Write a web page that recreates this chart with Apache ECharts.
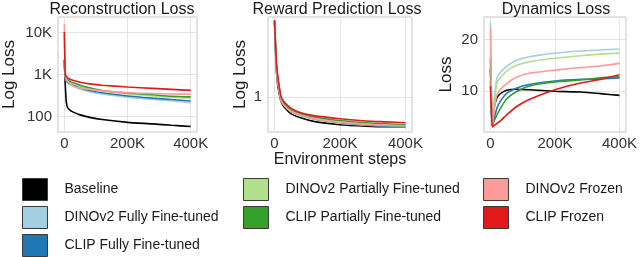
<!DOCTYPE html>
<html><head><meta charset="utf-8">
<script src="https://cdn.jsdelivr.net/npm/echarts@6/dist/echarts.min.js"></script>
<style>html,body{margin:0;padding:0;background:#fff}#c{width:640px;height:257px}</style>
</head><body><div id="c"></div>
<script>
// Shared x positions (environment steps)
const steps = [0, 3000, 6000, 10000, 20000, 30000, 50000, 80000, 120000, 200000, 280000, 340000, 400000];
const xTicks = [0, 200000, 400000];

const seriesNames = ['Baseline', 'DINOv2 Fully Fine-tuned', 'CLIP Fully Fine-tuned',
  'DINOv2 Partially Fine-tuned', 'CLIP Partially Fine-tuned', 'DINOv2 Frozen', 'CLIP Frozen'];
const seriesColors = ['#000000', '#a6cee3', '#1f78b4', '#b2df8a', '#33a02c', '#fb9a99', '#e31a1c'];

// Reconstruction Loss (log scale)
const reconBaseline = [2250, 580, 235, 165, 138, 126, 110, 96, 85, 73, 67, 62, 58];
const reconDinoFull = [1800, 850, 720, 630, 560, 520, 450, 390, 345, 290, 255, 235, 215];
const reconClipFull = [1900, 900, 760, 670, 600, 560, 485, 420, 370, 310, 275, 255, 235];
const reconDinoPart = [2000, 950, 800, 720, 640, 600, 530, 460, 400, 345, 310, 290, 275];
const reconClipPart = [2100, 1000, 850, 760, 680, 635, 560, 485, 420, 365, 330, 305, 295];
const reconDinoFrozen = [16200, 1100, 850, 700, 600, 530, 480, 445, 410, 370, 355, 345, 340];
const reconClipFrozen = [10300, 1000, 900, 830, 760, 720, 660, 600, 560, 505, 470, 445, 420];

// Reward Prediction Loss (log scale)
const rewardBaseline = [3.3, 2.1, 1.5, 1.2, 0.93, 0.85, 0.77, 0.72, 0.68, 0.645, 0.63, 0.625, 0.625];
const rewardDinoFull = [3.3, 2.15, 1.55, 1.25, 0.95, 0.87, 0.79, 0.74, 0.7, 0.66, 0.64, 0.632, 0.63];
const rewardClipFull = [3.3, 2.2, 1.6, 1.3, 0.96, 0.88, 0.8, 0.75, 0.71, 0.67, 0.645, 0.635, 0.63];
const rewardDinoPart = [3.35, 2.2, 1.6, 1.3, 0.96, 0.88, 0.8, 0.75, 0.71, 0.675, 0.65, 0.64, 0.635];
const rewardClipPart = [3.35, 2.25, 1.65, 1.35, 0.98, 0.9, 0.82, 0.77, 0.73, 0.69, 0.665, 0.655, 0.645];
const rewardDinoFrozen = [3.35, 2.2, 1.6, 1.3, 0.95, 0.87, 0.8, 0.75, 0.71, 0.67, 0.65, 0.64, 0.635];
const rewardClipFrozen = [3.38, 2.3, 1.7, 1.38, 1.0, 0.92, 0.84, 0.78, 0.745, 0.71, 0.685, 0.675, 0.665];

// Dynamics Loss (linear scale)
const dynBaseline = [14.3, 7, 3.3, 6.5, 8.7, 9.5, 10.2, 10.4, 10.3, 10.0, 9.85, 9.55, 9.2];
const dynDinoFull = [23.4, 10, 3.3, 7.5, 12.6, 13.6, 14.8, 16.0, 16.7, 17.4, 17.8, 18.0, 18.2];
const dynClipFull = [12, 6, 3.2, 4.3, 6.7, 8.0, 9.6, 10.6, 11.3, 12.0, 12.3, 12.4, 12.6];
const dynDinoPart = [16, 8, 3.3, 6.8, 11.6, 12.6, 13.9, 15.0, 15.7, 16.4, 16.9, 17.2, 17.4];
const dynClipPart = [16.6, 8, 3.2, 4.0, 5.4, 6.6, 8.5, 9.9, 11.0, 11.8, 12.2, 12.6, 12.8];
const dynDinoFrozen = [22.2, 9, 3.2, 5.8, 9.3, 10.3, 11.5, 12.7, 13.5, 14.1, 14.6, 14.9, 15.4];
const dynClipFrozen = [11, 6, 3.1, 3.3, 3.75, 4.2, 5.4, 7.0, 8.4, 10.3, 11.6, 12.3, 13.2];
const dynTicks = [10, 20];

const panels = [
  {title: 'Reconstruction Loss', yName: 'Log Loss', log: true, min: 43, max: 23500, nameGap: 40,
   data: [reconBaseline, reconDinoFull, reconClipFull, reconDinoPart, reconClipPart, reconDinoFrozen, reconClipFrozen]},
  {title: 'Reward Prediction Loss', yName: 'Log Loss', log: true, min: 0.575, max: 3.55, nameGap: 19,
   data: [rewardBaseline, rewardDinoFull, rewardClipFull, rewardDinoPart, rewardClipPart, rewardDinoFrozen, rewardClipFrozen]},
  {title: 'Dynamics Loss', yName: 'Loss', log: false, min: 2.1, max: 24.4, ticks: dynTicks, nameGap: 29,
   data: [dynBaseline, dynDinoFull, dynClipFull, dynDinoPart, dynClipPart, dynDinoFrozen, dynClipFrozen]}
];

const FONT = 'Liberation Sans, Arial, sans-serif';
const gridPos = [{left: 55, width: 142}, {left: 268, width: 144}, {left: 484, width: 143}];
const titleCenters = [117, 332, 551];
// legend slots: [column left, row top]
const legendCols = [22, 243, 483];
const legendRows = [178, 206, 234];
const legendSlots = [[0, 0], [0, 1], [0, 2], [1, 0], [1, 1], [2, 0], [2, 1]];

function kfmt(v) {
  if (v >= 1000) return (v / 1000) + 'K';
  return String(v);
}

const option = {
  animation: false,
  textStyle: {fontFamily: FONT},
  title: panels.map((p, i) => ({
    text: p.title, left: titleCenters[i], top: -3, textAlign: 'center',
    textStyle: {fontFamily: FONT, fontSize: 16, fontWeight: 'normal', color: '#1a1a1a'}
  })),
  grid: gridPos.map(g => ({left: g.left, width: g.width, top: 17, height: 115, show: true,
    borderColor: '#c4c4c4', borderWidth: 1, backgroundColor: '#fff'})),
  xAxis: panels.map((p, i) => ({
    type: 'value', gridIndex: i, min: -20000, max: 420000,
    name: i === 1 ? 'Environment steps' : '', nameLocation: 'middle', nameGap: 14,
    nameTextStyle: {fontFamily: FONT, fontSize: 16, color: '#1a1a1a'},
    axisLine: {show: false}, axisTick: {show: false, customValues: xTicks},
    axisLabel: {customValues: xTicks, formatter: kfmt, fontSize: 15, color: '#333', margin: 4, fontFamily: FONT},
    splitLine: {show: true, lineStyle: {color: '#e3e3e3', width: 1}}
  })),
  yAxis: panels.map((p, i) => {
    const ax = {
      type: p.log ? 'log' : 'value', logBase: 10, gridIndex: i, min: p.min, max: p.max,
      name: p.yName, nameLocation: 'middle', nameRotate: 90, nameGap: p.nameGap,
      nameTextStyle: {fontFamily: FONT, fontSize: 17, color: '#1a1a1a'},
      axisLine: {show: false}, axisTick: {show: false},
      axisLabel: {fontSize: 15, color: '#333', margin: 6, fontFamily: FONT,
        formatter: v => {
          if (p.log) {
            const l = Math.log10(v);
            if (Math.abs(l - Math.round(l)) > 1e-6) return '';
            return kfmt(Math.round(v));
          }
          return String(v);
        }},
      splitLine: {show: true, lineStyle: {color: '#e3e3e3', width: 1}}
    };
    if (p.ticks) {
      ax.axisTick.customValues = p.ticks;
      ax.axisLabel.customValues = p.ticks;
    } else {
      ax.axisLabel.showMinLabel = false;
      ax.axisLabel.showMaxLabel = false;
    }
    return ax;
  }),
  legend: seriesNames.map((name, i) => ({
    data: [name], left: legendCols[legendSlots[i][0]], top: legendRows[legendSlots[i][1]],
    orient: 'vertical', icon: 'rect', padding: 0,
    itemWidth: 25, itemHeight: 22, selectedMode: false,
    itemStyle: {borderColor: '#3a3a3a', borderWidth: 1},
    textStyle: {fontFamily: FONT, fontSize: 14, color: '#1a1a1a', padding: [0, 0, 0, 12]}
  })),
  series: []
};

panels.forEach((p, pi) => {
  p.data.forEach((vals, si) => {
    option.series.push({
      type: 'line', name: seriesNames[si], xAxisIndex: pi, yAxisIndex: pi,
      data: steps.map((s, k) => [s, vals[k]]),
      showSymbol: false, symbol: 'none', smooth: 0.2,
      color: seriesColors[si],
      lineStyle: {width: 1.6, color: seriesColors[si]},
      itemStyle: {color: seriesColors[si]},
      z: 2 + si
    });
  });
});

const chart = echarts.init(document.getElementById('c'), null, {renderer: 'canvas'});
chart.setOption(option);
</script></body></html>
